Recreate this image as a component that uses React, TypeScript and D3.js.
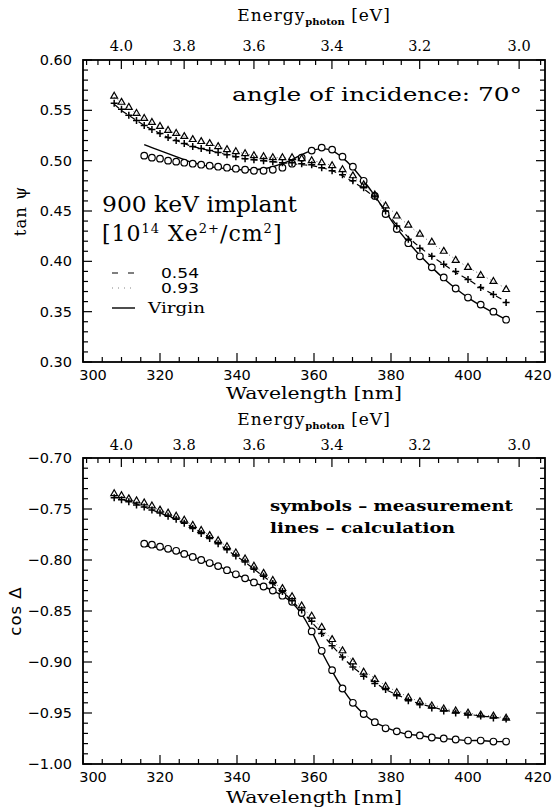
import * as d3 from "d3";
import { useEffect, useRef } from "react";

const W = 552;
const H = 810;

// measurement wavelengths [nm] (constant photon energy steps)
const lambdaImpl = [
  308.1, 310.0, 311.9, 313.9, 315.9, 317.9, 320.0, 322.1, 324.2, 326.3, 328.5,
  330.7, 332.9, 335.1, 337.4, 339.7, 342.1, 344.4, 346.9, 349.3, 351.8, 354.3,
  356.8, 359.4, 362.0, 364.7, 367.4, 370.1, 372.9, 375.8, 378.6, 381.5, 384.5,
  387.5, 390.6, 393.7, 396.8, 400.0, 403.3, 406.6, 409.9,
];
const lambdaVirgin = [
  315.9, 317.9, 320.0, 322.1, 324.2, 326.3, 328.5, 330.7, 332.9, 335.1, 337.4,
  339.7, 342.1, 344.4, 346.9, 349.3, 351.8, 354.3, 356.8, 359.4, 362.0, 364.7,
  367.4, 370.1, 372.9, 375.8, 378.6, 381.5, 384.5, 387.5, 390.6, 393.7, 396.8,
  400.0, 403.3, 406.6, 409.9,
];

// tan psi
const tanMeas093 = [
  0.564, 0.558, 0.553, 0.547, 0.542, 0.538, 0.534, 0.53, 0.527, 0.524, 0.521,
  0.519, 0.517, 0.514, 0.511, 0.509, 0.507, 0.505, 0.504, 0.503, 0.503, 0.503,
  0.502, 0.5, 0.498, 0.495, 0.491, 0.485, 0.476, 0.466, 0.455, 0.445, 0.436,
  0.427, 0.419, 0.41, 0.401, 0.394, 0.386, 0.38, 0.372,
];
const tanMeas054 = [
  0.557, 0.551, 0.545, 0.54, 0.535, 0.531, 0.527, 0.523, 0.52, 0.517, 0.514,
  0.512, 0.51, 0.508, 0.506, 0.504, 0.502, 0.501, 0.5, 0.499, 0.498, 0.498,
  0.497, 0.496, 0.493, 0.49, 0.486, 0.48, 0.473, 0.465, 0.45, 0.435, 0.422,
  0.413, 0.405, 0.397, 0.39, 0.382, 0.374, 0.367, 0.359,
];
const tanMeasVirgin = [
  0.505, 0.503, 0.502, 0.5, 0.499, 0.498, 0.497, 0.496, 0.495, 0.494, 0.493,
  0.492, 0.491, 0.49, 0.49, 0.491, 0.493, 0.497, 0.503, 0.51, 0.513, 0.511,
  0.504, 0.494, 0.48, 0.465, 0.447, 0.432, 0.418, 0.405, 0.394, 0.384, 0.373,
  0.364, 0.357, 0.35, 0.342,
];
const tanCalc054 = [
  0.556, 0.55, 0.545, 0.54, 0.535, 0.531, 0.527, 0.523, 0.52, 0.517, 0.514,
  0.512, 0.51, 0.508, 0.506, 0.504, 0.502, 0.501, 0.5, 0.499, 0.498, 0.497,
  0.496, 0.495, 0.493, 0.49, 0.485, 0.479, 0.472, 0.463, 0.45, 0.436, 0.424,
  0.414, 0.405, 0.397, 0.389, 0.382, 0.374, 0.367, 0.36,
];
const tanCalc093 = [
  0.563, 0.558, 0.552, 0.547, 0.542, 0.538, 0.534, 0.53, 0.527, 0.524, 0.521,
  0.519, 0.516, 0.514, 0.511, 0.509, 0.507, 0.505, 0.504, 0.503, 0.503, 0.502,
  0.501, 0.5, 0.498, 0.495, 0.49, 0.484, 0.476, 0.466, 0.456, 0.446, 0.436,
  0.427, 0.418, 0.41, 0.402, 0.394, 0.387, 0.38, 0.373,
];
const tanCalcVirgin = [
  0.516, 0.513, 0.51, 0.507, 0.504, 0.501, 0.498, 0.496, 0.494, 0.493, 0.492,
  0.491, 0.491, 0.491, 0.492, 0.494, 0.497, 0.501, 0.506, 0.51, 0.512, 0.51,
  0.503, 0.493, 0.48, 0.465, 0.449, 0.433, 0.419, 0.406, 0.394, 0.383, 0.373,
  0.364, 0.356, 0.349, 0.342,
];

// cos delta
const cosMeas093 = [
  -0.735, -0.737, -0.74, -0.742, -0.744, -0.747, -0.751, -0.754, -0.757,
  -0.761, -0.766, -0.771, -0.776, -0.781, -0.787, -0.793, -0.799, -0.806,
  -0.813, -0.82, -0.828, -0.836, -0.845, -0.855, -0.866, -0.878, -0.889, -0.9,
  -0.91, -0.917, -0.924, -0.93, -0.935, -0.939, -0.943, -0.946, -0.948, -0.95,
  -0.952, -0.953, -0.955,
];
const cosMeas054 = [
  -0.739, -0.741, -0.743, -0.746, -0.748, -0.751, -0.754, -0.757, -0.76,
  -0.764, -0.769, -0.774, -0.779, -0.784, -0.79, -0.796, -0.802, -0.809,
  -0.816, -0.823, -0.831, -0.84, -0.849, -0.86, -0.872, -0.884, -0.895, -0.905,
  -0.914, -0.921, -0.927, -0.933, -0.938, -0.942, -0.945, -0.948, -0.95,
  -0.952, -0.953, -0.955, -0.956,
];
const cosMeasVirgin = [
  -0.784, -0.785, -0.787, -0.789, -0.791, -0.794, -0.797, -0.8, -0.803, -0.806,
  -0.81, -0.814, -0.818, -0.822, -0.826, -0.83, -0.835, -0.841, -0.852, -0.87,
  -0.889, -0.908, -0.926, -0.94, -0.951, -0.959, -0.965, -0.968, -0.971,
  -0.972, -0.974, -0.975, -0.976, -0.977, -0.977, -0.978, -0.978,
];
const cosCalc054 = [
  -0.738, -0.74, -0.743, -0.745, -0.748, -0.751, -0.754, -0.757, -0.76,
  -0.764, -0.768, -0.773, -0.778, -0.784, -0.79, -0.796, -0.802, -0.809,
  -0.816, -0.823, -0.831, -0.84, -0.85, -0.861, -0.872, -0.884, -0.895, -0.905,
  -0.913, -0.92, -0.927, -0.932, -0.937, -0.941, -0.944, -0.947, -0.949,
  -0.951, -0.953, -0.954, -0.956,
];
const cosCalc093 = [
  -0.736, -0.738, -0.74, -0.743, -0.745, -0.748, -0.751, -0.754, -0.758,
  -0.762, -0.766, -0.771, -0.776, -0.781, -0.787, -0.793, -0.8, -0.806, -0.813,
  -0.821, -0.829, -0.837, -0.846, -0.856, -0.867, -0.878, -0.889, -0.899,
  -0.908, -0.916, -0.923, -0.929, -0.934, -0.939, -0.942, -0.945, -0.948,
  -0.95, -0.952, -0.953, -0.955,
];
const cosCalcVirgin = [
  -0.786, -0.787, -0.788, -0.79, -0.792, -0.794, -0.797, -0.8, -0.803, -0.806,
  -0.81, -0.814, -0.818, -0.822, -0.826, -0.83, -0.835, -0.842, -0.853, -0.87,
  -0.89, -0.909, -0.926, -0.94, -0.951, -0.959, -0.964, -0.968, -0.971,
  -0.972, -0.974, -0.975, -0.976, -0.977, -0.977, -0.978, -0.978,
];

const wlTicks = [300, 320, 340, 360, 380, 400, 420];
const energyTicks = [4.0, 3.8, 3.6, 3.4, 3.2, 3.0];
const tanTicks = [0.3, 0.35, 0.4, 0.45, 0.5, 0.55, 0.6];
const cosTicks = [-1.0, -0.95, -0.9, -0.85, -0.8, -0.75, -0.7];

const HC = 1239.84; // eV nm
const SERIF = "DejaVu Serif";
const SANS = "DejaVu Sans";

const panels = [
  {
    top: 60,
    bottom: 362,
    yDomain: [0.3, 0.6],
    yTicks: tanTicks,
    yLabel: "tan \u03c8",
    yLabelFont: SERIF,
    yLabelX: 26,
    tri: tanMeas093,
    plus: tanMeas054,
    circ: tanMeasVirgin,
    c093: tanCalc093,
    c054: tanCalc054,
    cVir: tanCalcVirgin,
    eTitleY: 21,
    eLabelY: 51,
    wlLabelY: 380,
    wlTitleY: 399,
  },
  {
    top: 458,
    bottom: 764,
    yDomain: [-1.0, -0.7],
    yTicks: cosTicks,
    yLabel: "cos \u0394",
    yLabelFont: SANS,
    yLabelX: 21,
    tri: cosMeas093,
    plus: cosMeas054,
    circ: cosMeasVirgin,
    c093: cosCalc093,
    c054: cosCalc054,
    cVir: cosCalcVirgin,
    eTitleY: 425,
    eLabelY: 450,
    wlLabelY: 782,
    wlTitleY: 803,
  },
];

const x = d3.scaleLinear().domain([300, 420]).range([83, 545]);

const drawPanel = (svg, p) => {
  const y = d3.scaleLinear().domain(p.yDomain).range([p.bottom, p.top]);
  const g = svg.append("g");
  const [x0, x1] = x.range();

  g.append("rect")
    .attr("x", x0)
    .attr("y", p.top)
    .attr("width", x1 - x0)
    .attr("height", p.bottom - p.top)
    .attr("fill", "none")
    .attr("stroke", "#000")
    .attr("stroke-width", 1.8);

  const ticks = g.append("g").attr("stroke", "#000").attr("stroke-width", 1.2);

  // y ticks, both sides, pointing in
  d3.range(0, 31).forEach((i) => {
    const v = p.yDomain[0] + i * 0.01;
    const len = i % 5 === 0 ? 9 : 5;
    ticks.append("line").attr("x1", x0).attr("x2", x0 + len).attr("y1", y(v)).attr("y2", y(v));
    ticks.append("line").attr("x1", x1).attr("x2", x1 - len).attr("y1", y(v)).attr("y2", y(v));
  });

  // wavelength ticks
  d3.range(300, 421, 5).forEach((v) => {
    const len = v % 20 === 0 ? 9 : 5;
    ticks.append("line").attr("x1", x(v)).attr("x2", x(v)).attr("y1", p.bottom).attr("y2", p.bottom - len);
  });

  // energy ticks along the top, every 0.04 eV, long ones at 0.2 eV
  d3.range(0, 30).forEach((i) => {
    const major = (i - 3) % 5 === 0;
    const e = 4.12 - i * 0.04;
    const len = major ? 9 : 5;
    const xe = x(HC / e);
    if (xe < x0 || xe > x1) return;
    ticks.append("line").attr("x1", xe).attr("x2", xe).attr("y1", p.top).attr("y2", p.top + len);
  });

  const fmt2 = d3.format(".2f");
  g.append("g")
    .selectAll("text")
    .data(p.yTicks)
    .join("text")
    .attr("x", 72)
    .attr("y", (d) => y(d) + 5)
    .attr("text-anchor", "end")
    .attr("font-family", SANS)
    .attr("font-size", 14.5)
    .text((d) => fmt2(d));

  g.append("g")
    .selectAll("text")
    .data(wlTicks)
    .join("text")
    .attr("x", (d) => x(d) + (d === 300 ? 10 : d === 420 ? -7 : 0))
    .attr("y", p.wlLabelY)
    .attr("text-anchor", "middle")
    .attr("font-family", SANS)
    .attr("font-size", 14.5)
    .text((d) => d);

  g.append("g")
    .selectAll("text")
    .data(energyTicks)
    .join("text")
    .attr("x", (d) => x(HC / d))
    .attr("y", p.eLabelY)
    .attr("text-anchor", "middle")
    .attr("font-family", SERIF)
    .attr("font-size", 14.5)
    .text((d) => d.toFixed(1));

  // axis titles
  g.append("text")
    .attr("x", 314)
    .attr("y", p.wlTitleY)
    .attr("text-anchor", "middle")
    .attr("font-family", SERIF)
    .attr("font-size", 17)
    .attr("textLength", 176)
    .attr("lengthAdjust", "spacingAndGlyphs")
    .text("Wavelength [nm]");

  const et = g
    .append("text")
    .attr("x", 314)
    .attr("y", p.eTitleY)
    .attr("text-anchor", "middle")
    .attr("font-family", SERIF)
    .attr("font-size", 17)
    .attr("letter-spacing", 1);
  et.append("tspan").text("Energy");
  et.append("tspan").attr("dy", 4).attr("font-size", 10).attr("font-weight", "bold").attr("letter-spacing", 0).text("photon");
  et.append("tspan").attr("dy", -4).text(" [eV]");

  g.append("text")
    .attr("transform", `translate(${p.yLabelX},${(p.top + p.bottom) / 2}) rotate(-90)`)
    .attr("text-anchor", "middle")
    .attr("font-family", p.yLabelFont)
    .attr("font-size", 16.5)
    .attr("letter-spacing", 1)
    .text(p.yLabel);

  // calculation lines
  const line = (xs) =>
    d3
      .line()
      .x((d, i) => x(xs[i]))
      .y((d) => y(d))
      .curve(d3.curveCatmullRom);

  g.append("path")
    .attr("d", line(lambdaVirgin)(p.cVir))
    .attr("fill", "none")
    .attr("stroke", "#000")
    .attr("stroke-width", 1.4);
  g.append("path")
    .attr("d", line(lambdaImpl)(p.c054))
    .attr("fill", "none")
    .attr("stroke", "#000")
    .attr("stroke-width", 1.2)
    .attr("stroke-dasharray", "6,4");
  g.append("path")
    .attr("d", line(lambdaImpl)(p.c093))
    .attr("fill", "none")
    .attr("stroke", "#555")
    .attr("stroke-width", 0.9)
    .attr("stroke-dasharray", "1,3");

  // measurement symbols
  const sym = g.append("g").attr("fill", "none").attr("stroke", "#000").attr("stroke-width", 1.2);
  sym
    .selectAll("circle")
    .data(p.circ)
    .join("circle")
    .attr("cx", (d, i) => x(lambdaVirgin[i]))
    .attr("cy", (d) => y(d))
    .attr("r", 3.3)
    .attr("fill", "#fff");
  sym
    .selectAll("path.plus")
    .data(p.plus)
    .join("path")
    .attr("class", "plus")
    .attr("transform", (d, i) => `translate(${x(lambdaImpl[i])},${y(d)})`)
    .attr("stroke-width", 1.5)
    .attr("d", "M-3.5,0H3.5M0,-3.5V3.5");
  sym
    .selectAll("path.tri")
    .data(p.tri)
    .join("path")
    .attr("class", "tri")
    .attr("transform", (d, i) => `translate(${x(lambdaImpl[i])},${y(d)})`)
    .attr("d", d3.symbol(d3.symbolTriangle, 20)());
};

export default function App() {
  const ref = useRef(null);

  useEffect(() => {
    document.body.style.margin = "0";
    const svg = d3.select(ref.current);
    svg.selectAll("*").remove();
    panels.forEach((p) => drawPanel(svg, p));

    // annotations, top panel
    svg
      .append("text")
      .attr("x", 232)
      .attr("y", 101)
      .attr("font-family", SERIF)
      .attr("font-size", 19)
      .attr("textLength", 290)
      .attr("lengthAdjust", "spacingAndGlyphs")
      .text("angle of incidence: 70\u00b0");

    svg
      .append("text")
      .attr("x", 102)
      .attr("y", 212)
      .attr("font-family", SERIF)
      .attr("font-size", 22)
      .attr("textLength", 195)
      .attr("lengthAdjust", "spacingAndGlyphs")
      .text("900 keV implant");

    const dose = svg
      .append("text")
      .attr("x", 102)
      .attr("y", 241)
      .attr("font-family", SERIF)
      .attr("font-size", 22)
      .attr("letter-spacing", 1);
    dose.append("tspan").text("[10");
    dose.append("tspan").attr("dy", -8).attr("font-size", 13).text("14");
    dose.append("tspan").attr("dy", 8).text(" Xe");
    dose.append("tspan").attr("dy", -8).attr("font-size", 13).text("2+");
    dose.append("tspan").attr("dy", 8).text("/cm");
    dose.append("tspan").attr("dy", -8).attr("font-size", 13).text("2");
    dose.append("tspan").attr("dy", 8).text("]");

    const legend = [
      { label: "0.54", dash: "6,10", stroke: "#000", width: 1.2, font: SANS, tx: 161, len: 38 },
      { label: "0.93", dash: "1,5", stroke: "#777", width: 0.9, font: SANS, tx: 161, len: 38 },
      { label: "Virgin", dash: null, stroke: "#000", width: 1.4, font: SERIF, tx: 148, len: 57 },
    ];
    const lg = svg.append("g");
    legend.forEach((d, i) => {
      const ly = [273, 288, 308][i];
      lg.append("line")
        .attr("x1", 112)
        .attr("x2", 135)
        .attr("y1", ly)
        .attr("y2", ly)
        .attr("stroke", d.stroke)
        .attr("stroke-width", d.width)
        .attr("stroke-dasharray", d.dash);
      lg.append("text")
        .attr("x", d.tx)
        .attr("y", ly + 5)
        .attr("font-family", d.font)
        .attr("font-size", 14)
        .attr("textLength", d.len)
        .attr("lengthAdjust", "spacingAndGlyphs")
        .text(d.label);
    });

    // annotations, bottom panel
    svg
      .append("text")
      .attr("x", 270)
      .attr("y", 511)
      .attr("font-family", SERIF)
      .attr("font-weight", "bold")
      .attr("font-size", 15)
      .attr("textLength", 243)
      .attr("lengthAdjust", "spacingAndGlyphs")
      .text("symbols \u2013 measurement");
    svg
      .append("text")
      .attr("x", 270)
      .attr("y", 533)
      .attr("font-family", SERIF)
      .attr("font-weight", "bold")
      .attr("font-size", 15)
      .attr("textLength", 185)
      .attr("lengthAdjust", "spacingAndGlyphs")
      .text("lines \u2013 calculation");
  }, []);

  return <svg ref={ref} width={W} height={H} style={{ display: "block", background: "#fff" }} />;
}
